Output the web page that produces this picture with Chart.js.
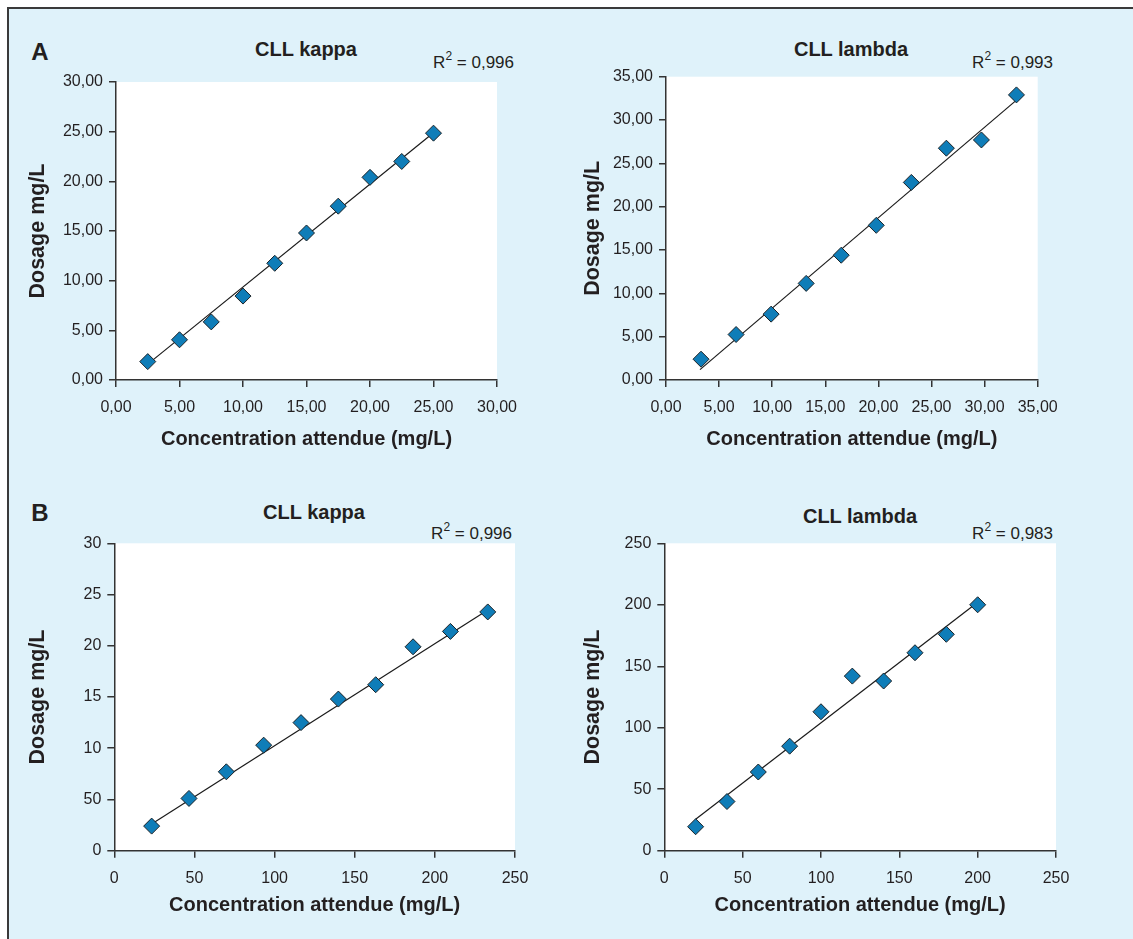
<!DOCTYPE html>
<html>
<head>
<meta charset="utf-8">
<script src="https://cdn.jsdelivr.net/npm/chart.js@4/dist/chart.umd.min.js"></script>
<style>
  html, body { margin: 0; padding: 0; background: #fff; }
  #fig {
    position: relative; width: 1133px; height: 939px; overflow: hidden;
    font-family: 'Liberation Sans', Arial, sans-serif; color: #231f20;
  }
  #panel {
    position: absolute; left: 7px; top: 7px; right: -4px; bottom: -4px;
    background: #dff2fa; border-left: 2px solid #3a3a3a; border-top: 2px solid #3a3a3a;
  }
  .box { position: absolute; }
  .lbl { position: absolute; white-space: nowrap; line-height: 1; }
  .letter { font-weight: bold; font-size: 24px; transform: translate(-50%, -50%); }
  .title { font-weight: bold; font-size: 20px; transform: translate(-50%, -50%); }
  .r2 { font-size: 17px; transform: translateY(-50%); }
  .r2 sup { font-size: 12px; position: relative; top: -1px; }
</style>
</head>
<body>
<div id="fig">
  <div id="panel"></div>

  <div class="lbl letter" style="left:40px; top:52px;">A</div>
  <div class="lbl letter" style="left:40px; top:513px;">B</div>

  <div class="lbl title" style="left:306px; top:49px;">CLL kappa</div>
  <div class="lbl title" style="left:851px; top:49px;">CLL lambda</div>
  <div class="lbl title" style="left:314px; top:512px;">CLL kappa</div>
  <div class="lbl title" style="left:860px; top:516px;">CLL lambda</div>

  <div class="lbl r2" style="right:619px; top:61px;">R<sup>2</sup> = 0,996</div>
  <div class="lbl r2" style="right:80px; top:61px;">R<sup>2</sup> = 0,993</div>
  <div class="lbl r2" style="right:621px; top:532px;">R<sup>2</sup> = 0,996</div>
  <div class="lbl r2" style="right:80px; top:532px;">R<sup>2</sup> = 0,983</div>

  <div class="box" style="left:14px; top:40px; width:548px; height:420px;"><canvas id="cAk"></canvas></div>
  <div class="box" style="left:566px; top:40px; width:562px; height:420px;"><canvas id="cAl"></canvas></div>
  <div class="box" style="left:14px; top:490px; width:548px; height:449px;"><canvas id="cBk"></canvas></div>
  <div class="box" style="left:566px; top:490px; width:562px; height:449px;"><canvas id="cBl"></canvas></div>
</div>

<script>
'use strict';

// ── Data ───────────────────────────────────────────────────────────────────
// A – CLL kappa
const akX = [2.5, 5, 7.5, 10, 12.5, 15, 17.5, 20, 22.5, 25];
const akY = [1.85, 4.05, 5.85, 8.45, 11.75, 14.8, 17.5, 20.4, 22.0, 24.85];
const akFitX = [2.5, 25];
const akFitY = [1.6, 24.9];

// A – CLL lambda
const alX = [3.3, 6.6, 9.9, 13.2, 16.5, 19.8, 23.1, 26.4, 29.7, 33];
const alY = [2.4, 5.25, 7.6, 11.15, 14.4, 17.85, 22.8, 26.75, 27.7, 32.9];
const alFitX = [3.2, 33];
const alFitY = [1.2, 32.3];

// B – CLL kappa
const bkX = [23.3, 46.6, 69.9, 93.2, 116.5, 139.8, 163.1, 186.4, 209.7, 233];
const bkY = [2.4, 5.1, 7.7, 10.3, 12.5, 14.8, 16.2, 19.9, 21.4, 23.3];
const bkFitX = [23.3, 233];
const bkFitY = [2.6, 23.5];

// B – CLL lambda
const blX = [20, 40, 60, 80, 100, 120, 140, 160, 180, 200];
const blY = [19.5, 40, 64, 85, 113, 142, 138, 161, 176, 200];
const blFitX = [20, 199];
const blFitY = [25.5, 201];

// Tick labels as printed (panel B kappa really reads "50" at 5)
const bkYTickLabels = ['0', '50', '10', '15', '20', '25', '30'];
const xTitle = 'Concentration attendue (mg/L)';
const yTitle = 'Dosage mg/L';

// ── Styling ────────────────────────────────────────────────────────────────
const FONT  = "'Liberation Sans', Arial, sans-serif";
const INK   = '#231f20';
const AXIS  = '#333333';
const BLUE  = '#0f7db8';
const EDGE  = '#1c2328';

const comma2 = (v) => v.toFixed(2).replace('.', ',');
const pts = (xs, ys) => xs.map((x, i) => ({ x, y: ys[i] }));

// white plot background
const plotBg = {
  id: 'plotBg',
  beforeDraw(chart) {
    const { ctx, chartArea: a } = chart;
    ctx.save();
    ctx.fillStyle = '#ffffff';
    ctx.fillRect(a.left, a.top, a.right - a.left, a.bottom - a.top);
    ctx.restore();
  },
};

// ── Builder ────────────────────────────────────────────────────────────────
// o: { id, xs, ys, fx, fy, xMax, xStep, yMax, yStep, fmtX, fmtY,
//      yW, xH, padTop, padRight, yTitlePad, xTitlePad }
const makeChart = (o) => {
  const axisCommon = {
    type: 'linear',
    min: 0,
    grid: { display: true, drawOnChartArea: false, drawTicks: true, tickLength: 7, color: AXIS, lineWidth: 1.5 },
    border: { display: true, color: AXIS, width: 1.5 },
  };

  new Chart(document.getElementById(o.id), {
    type: 'scatter',
    data: {
      datasets: [
        {
          data: pts(o.xs, o.ys),
          pointStyle: 'rectRot',
          pointRadius: 8,
          pointBackgroundColor: BLUE,
          pointBorderColor: EDGE,
          pointBorderWidth: 1,
          showLine: false,
          order: 1,
        },
        {
          type: 'line',
          data: pts(o.fx, o.fy),
          borderColor: '#1a1a1a',
          borderWidth: 1.2,
          pointRadius: 0,
          fill: false,
          order: 2,
        },
      ],
    },
    options: {
      responsive: true,
      maintainAspectRatio: false,
      animation: false,
      layout: { padding: { top: o.padTop, right: o.padRight, left: 0, bottom: 0 } },
      plugins: { legend: { display: false }, tooltip: { enabled: false } },
      scales: {
        x: {
          ...axisCommon,
          max: o.xMax,
          afterFit: (s) => { s.height = o.xH; },
          ticks: {
            stepSize: o.xStep, color: INK, padding: 11, maxRotation: 0,
            font: { family: FONT, size: 16 },
            callback: o.fmtX,
          },
          title: {
            display: true, text: xTitle, color: INK,
            font: { family: FONT, size: 20, weight: 'bold' },
            padding: { top: 0, bottom: o.xTitlePad },
          },
        },
        y: {
          ...axisCommon,
          max: o.yMax,
          afterFit: (s) => { s.width = o.yW; },
          ticks: {
            stepSize: o.yStep, color: INK, padding: 6,
            font: { family: FONT, size: 16 },
            callback: o.fmtY,
          },
          title: {
            display: true, text: yTitle, color: INK,
            font: { family: FONT, size: 21.5, weight: 'bold' },
            padding: { top: o.yTitlePad, bottom: 0 },
          },
        },
      },
    },
    plugins: [plotBg],
  });
};

// ── Panels ─────────────────────────────────────────────────────────────────
makeChart({
  id: 'cAk', xs: akX, ys: akY, fx: akFitX, fy: akFitY,
  xMax: 30, xStep: 5, yMax: 30, yStep: 5, fmtX: comma2, fmtY: comma2,
  yW: 102, xH: 80, padTop: 42, padRight: 65, yTitlePad: 11, xTitlePad: 9,
});

makeChart({
  id: 'cAl', xs: alX, ys: alY, fx: alFitX, fy: alFitY,
  xMax: 35, xStep: 5, yMax: 35, yStep: 5, fmtX: comma2, fmtY: comma2,
  yW: 100, xH: 80, padTop: 36.7, padRight: 90.3, yTitlePad: 14, xTitlePad: 9,
});

makeChart({
  id: 'cBk', xs: bkX, ys: bkY, fx: bkFitX, fy: bkFitY,
  xMax: 250, xStep: 50, yMax: 30, yStep: 5,
  fmtX: (v) => String(v), fmtY: (v) => bkYTickLabels[Math.round(v / 5)],
  yW: 100.3, xH: 88.3, padTop: 53.3, padRight: 47, yTitlePad: 11, xTitlePad: 22,
});

makeChart({
  id: 'cBl', xs: blX, ys: blY, fx: blFitX, fy: blFitY,
  xMax: 250, xStep: 50, yMax: 250, yStep: 50,
  fmtX: (v) => String(v), fmtY: (v) => String(v),
  yW: 98.3, xH: 88.3, padTop: 53.3, padRight: 72, yTitlePad: 14, xTitlePad: 22,
});
</script>
</body>
</html>
